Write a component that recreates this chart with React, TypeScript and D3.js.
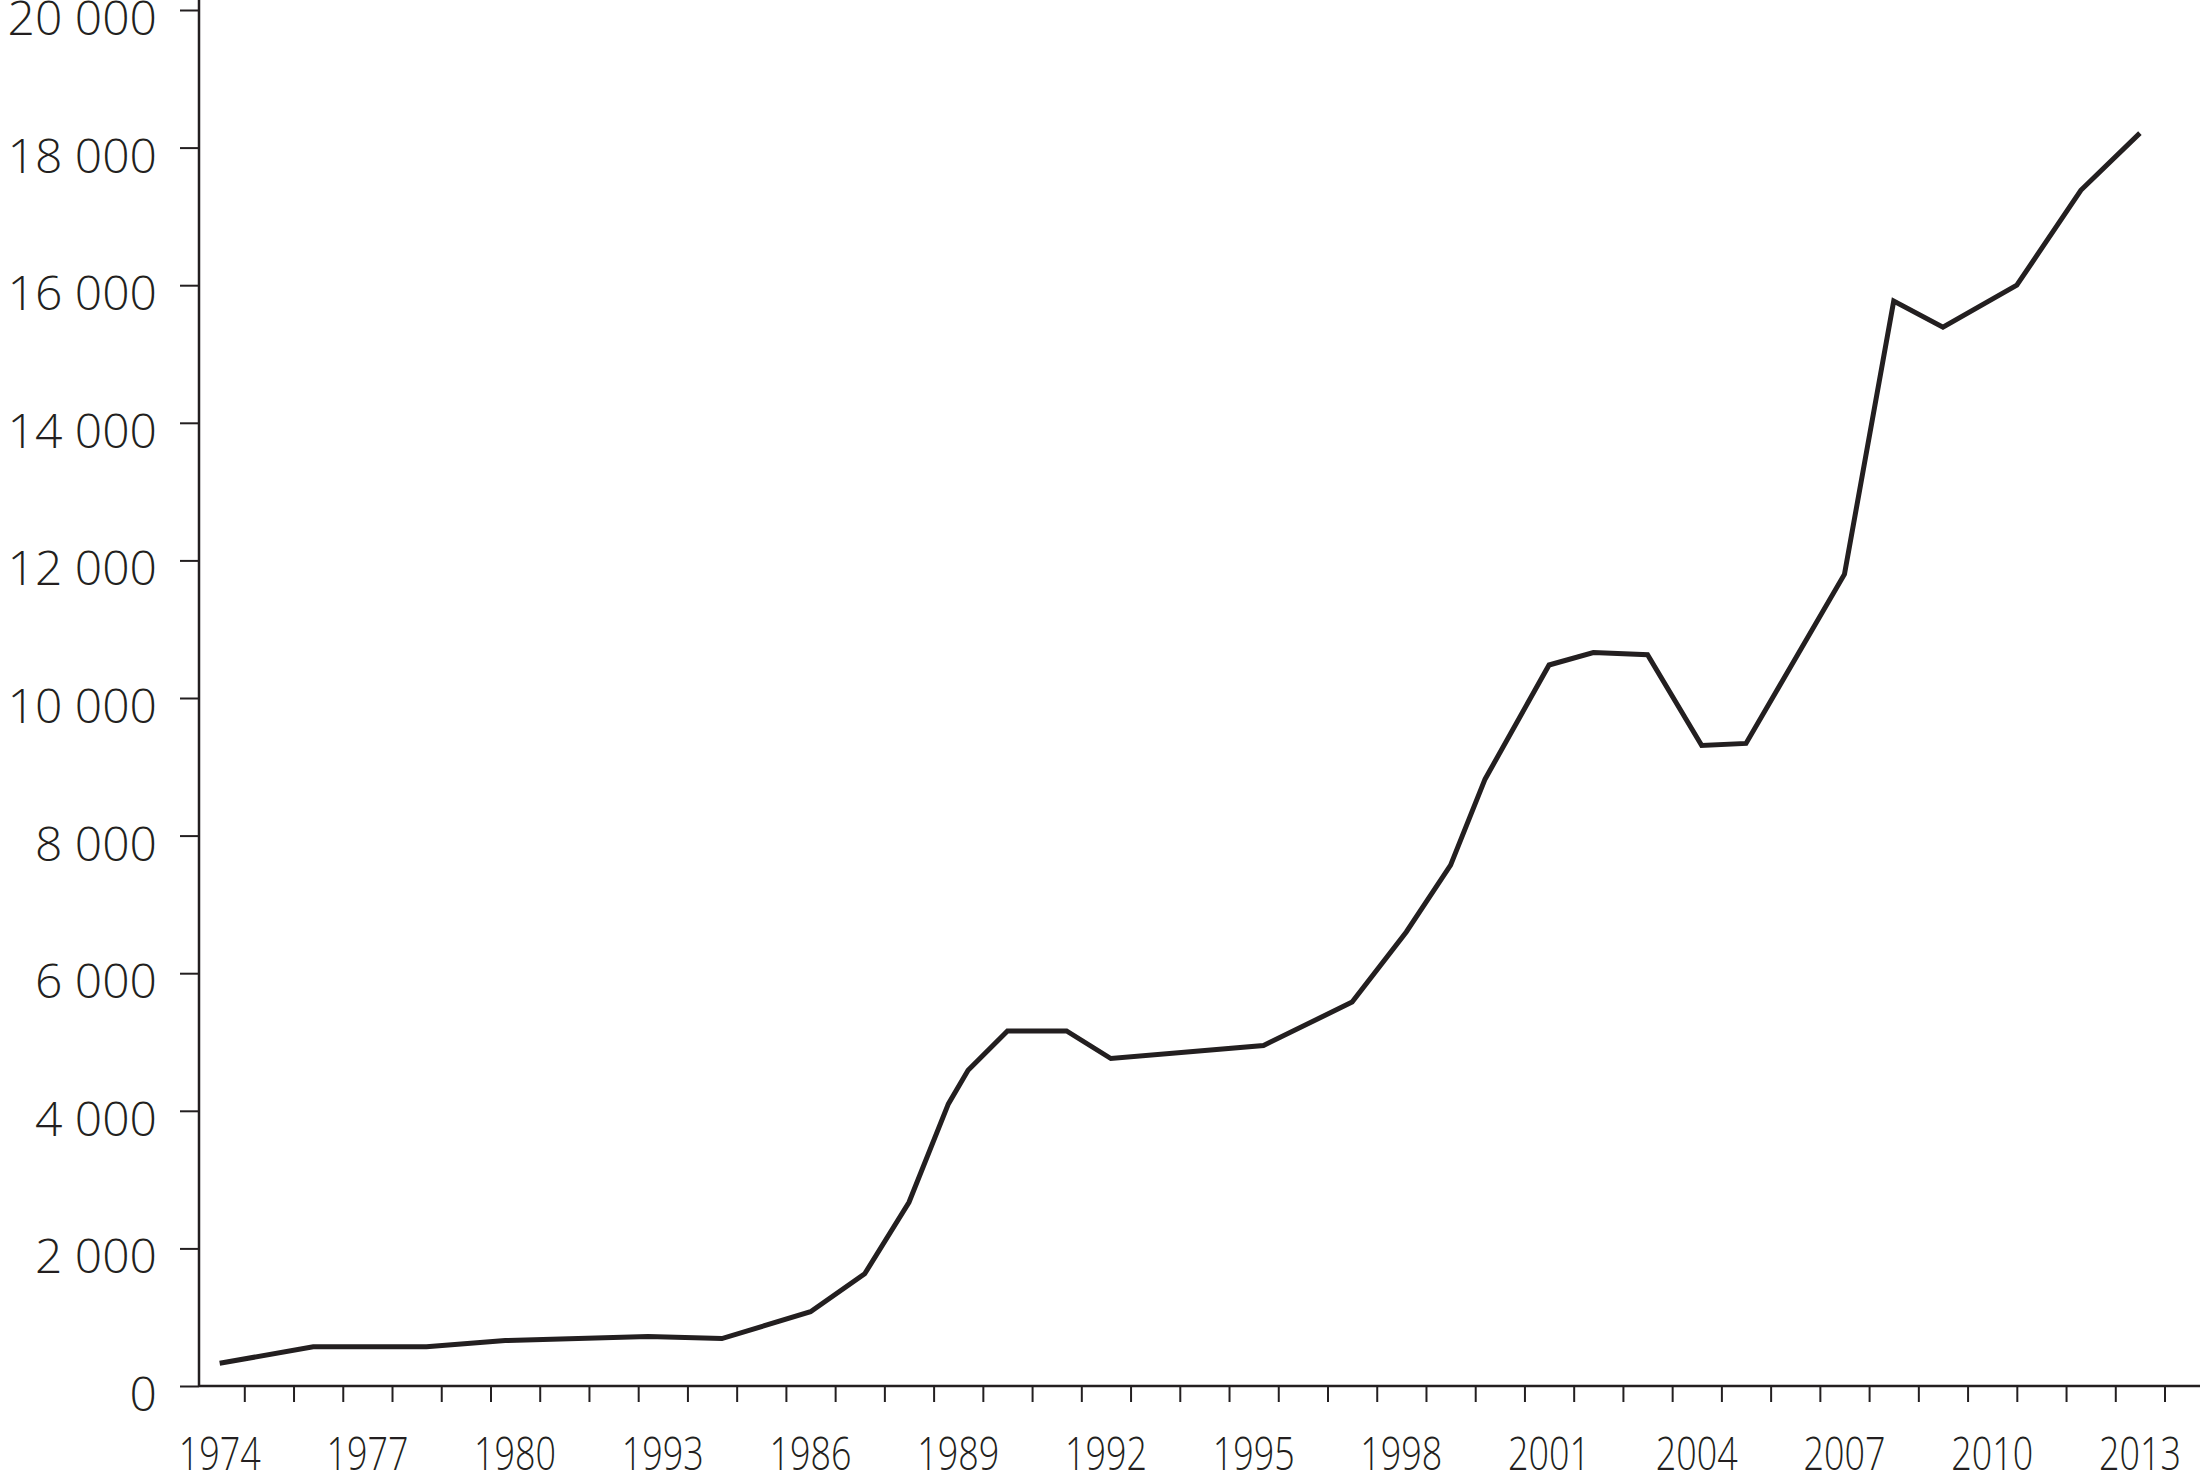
import React, { useEffect, useRef } from 'react';
import * as d3 from 'd3';

// vertices of the line (year positions are not always whole years)
const years = [
  1974, 1975.9, 1978.2, 1979.8, 1982.7, 1984.2, 1986, 1987.1, 1988, 1988.8,
  1989.2, 1990, 1991.2, 1992.1, 1995.2, 1997, 1998.1, 1999, 1999.7, 2001,
  2001.9, 2003, 2004.1, 2005, 2007, 2008, 2009, 2010.5, 2011.8, 2013,
];
const values = [
  330, 570, 570, 660, 720, 690, 1080, 1630, 2670, 4100,
  4590, 5160, 5160, 4760, 4950, 5580, 6600, 7570, 8820, 10480,
  10660, 10630, 9310, 9340, 11800, 15770, 15390, 16000, 17380, 18210,
];

const yTicks = [0, 2000, 4000, 6000, 8000, 10000, 12000, 14000, 16000, 18000, 20000];

// labels as printed (the 1983 slot reads "1993" in the original)
const labelYears = [1974, 1977, 1980, 1983, 1986, 1989, 1992, 1995, 1998, 2001, 2004, 2007, 2010, 2013];
const labelTexts = ['1974', '1977', '1980', '1993', '1986', '1989', '1992', '1995', '1998', '2001', '2004', '2007', '2010', '2013'];

const W = 2200;
const H = 1472;
const ink = '#231f20';
const font = "'Open Sans', 'Noto Sans', sans-serif";

const App = () => {
  const svgRef = useRef(null);

  useEffect(() => {
    const svg = d3.select(svgRef.current);
    svg.selectAll('*').remove();

    const x = d3.scaleLinear().domain([1973.58, 2014.18]).range([199, 2198]);
    const y = d3.scaleLinear().domain([0, 20000]).range([1386, 10]);
    const spaced = d3.formatLocale({ decimal: ',', thousands: ' ', grouping: [3], currency: ['', ''] }).format(',');

    // Y axis: line, ticks, labels
    svg.append('line')
      .attr('x1', x.range()[0]).attr('x2', x.range()[0])
      .attr('y1', 0).attr('y2', y(0))
      .attr('stroke', ink).attr('stroke-width', 2.5);

    const yAxis = svg.append('g').attr('transform', `translate(${x.range()[0]},0)`)
      .call(d3.axisLeft(y).tickValues(yTicks).tickSize(19).tickSizeOuter(0).tickPadding(0).tickFormat(() => ''));
    yAxis.select('.domain').remove();
    yAxis.selectAll('line').attr('stroke', ink).attr('stroke-width', 2);

    svg.append('g').selectAll('text')
      .data(yTicks)
      .join('text')
      .attr('x', 157)
      .attr('y', (d) => y(d) + 25)
      .attr('text-anchor', 'end')
      .attr('font-family', font)
      .attr('font-weight', 300)
      .attr('font-size', 48)
      .attr('fill', ink)
      .text((d) => spaced(d));

    // X axis: line, ticks between years, labels every third year
    svg.append('line')
      .attr('x1', x.range()[0]).attr('x2', W)
      .attr('y1', y(0)).attr('y2', y(0))
      .attr('stroke', ink).attr('stroke-width', 2.5);

    const tickMarks = d3.range(1974.5, 2014, 1);
    const xAxis = svg.append('g').attr('transform', `translate(0,${y(0)})`)
      .call(d3.axisBottom(x).tickValues(tickMarks).tickSize(16).tickSizeOuter(0).tickFormat(() => ''));
    xAxis.select('.domain').remove();
    xAxis.selectAll('line').attr('stroke', ink).attr('stroke-width', 2);

    svg.append('g').selectAll('text')
      .data(labelYears)
      .join('text')
      .attr('x', (d) => x(d))
      .attr('y', 1470)
      .attr('text-anchor', 'middle')
      .attr('font-family', font)
      .attr('font-weight', 300)
      .attr('font-size', 46)
      .attr('fill', ink)
      .attr('textLength', 82)
      .attr('lengthAdjust', 'spacingAndGlyphs')
      .text((d, i) => labelTexts[i]);

    // the series
    const line = d3.line()
      .x((d) => x(d[0]))
      .y((d) => y(d[1]));

    svg.append('path')
      .datum(years.map((yr, i) => [yr, values[i]]))
      .attr('d', line)
      .attr('fill', 'none')
      .attr('stroke', ink)
      .attr('stroke-width', 5)
      .attr('stroke-linejoin', 'miter');
  }, []);

  return (
    <div style={{ position: 'absolute', left: 0, top: 0 }}>
      <svg ref={svgRef} width={W} height={H} style={{ display: 'block', backgroundColor: 'white' }}></svg>
    </div>
  );
};

export default App;
